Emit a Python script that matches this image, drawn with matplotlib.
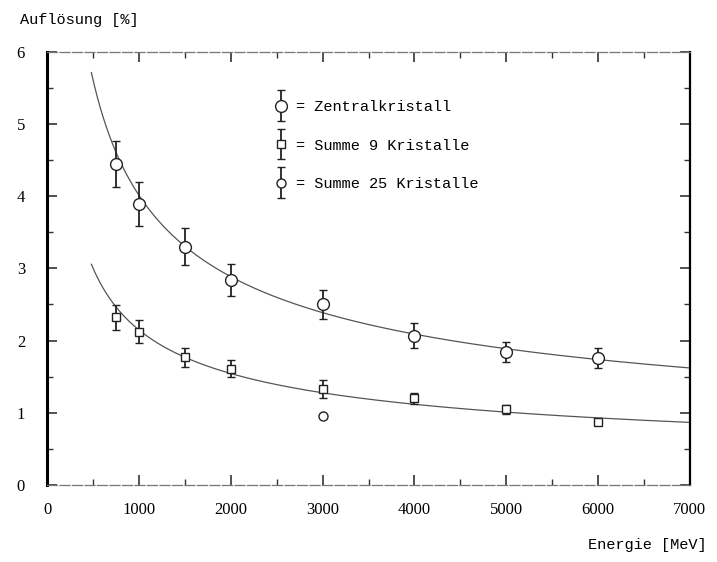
import numpy as np
import matplotlib
matplotlib.use('Agg')
import matplotlib.pyplot as plt
from matplotlib.ticker import MultipleLocator
from matplotlib.container import ErrorbarContainer
from matplotlib.legend_handler import HandlerErrorbar

# Energy points (MeV) and resolution (%)
e_zentral = [750, 1000, 1500, 2000, 3000, 4000, 5000, 6000]
r_zentral = [4.45, 3.89, 3.30, 2.84, 2.50, 2.07, 1.84, 1.76]
err_zentral = [0.32, 0.30, 0.26, 0.22, 0.20, 0.17, 0.14, 0.14]

e_summe9 = [750, 1000, 1500, 2000, 3000, 4000, 5000, 6000]
r_summe9 = [2.32, 2.12, 1.77, 1.61, 1.33, 1.20, 1.05, 0.87]
err_summe9 = [0.17, 0.16, 0.13, 0.12, 0.12, 0.08, 0.06, 0.0]

e_summe25 = [3000]
r_summe25 = [0.96]
err_summe25 = [0.0]

# fitted curves: a / sqrt(E) + b
fit_upper = (121.4, 0.17)
fit_lower = (65.0, 0.09)
fit_range = (480, 7000)

plt.rcParams['font.family'] = ['Liberation Serif', 'DejaVu Serif']

fig = plt.figure(figsize=(7.17, 5.62), dpi=100)
ax = fig.add_axes([0.066, 0.137, 0.896, 0.771])

x = np.linspace(fit_range[0], fit_range[1], 400)
for a, b in (fit_upper, fit_lower):
	ax.plot(x, a / np.sqrt(x) + b, color='#555555', lw=0.9)

eb_kw = dict(color='#222222', ecolor='#222222', elinewidth=1.3, capsize=3,
	capthick=1.3, linestyle='none', mfc='white', mew=1.0)
h1 = ax.errorbar(e_zentral, r_zentral, yerr=err_zentral, marker='o', ms=8.5, **eb_kw)
h2 = ax.errorbar(e_summe9, r_summe9, yerr=err_summe9, marker='s', ms=6, **eb_kw)
h3 = ax.errorbar(e_summe25, r_summe25, yerr=err_summe25, marker='o', ms=6.5, **eb_kw)

ax.set_xlim(0, 7000)
ax.set_ylim(0, 6)
ax.xaxis.set_major_locator(MultipleLocator(1000))
ax.xaxis.set_minor_locator(MultipleLocator(500))
ax.yaxis.set_major_locator(MultipleLocator(1))
ax.yaxis.set_minor_locator(MultipleLocator(0.5))
ax.tick_params(which='both', direction='in', top=True, right=True,
	labelsize=12, color='#333333')
ax.tick_params(which='major', length=7, width=1.2)
ax.tick_params(which='minor', length=4, width=1.0)
ax.tick_params(axis='x', pad=12)
ax.tick_params(axis='y', pad=16)

ax.spines['left'].set_linewidth(2.2)
ax.spines['right'].set_linewidth(1.6)
for s in ('top', 'bottom'):
	ax.spines[s].set_linewidth(0.9)
	ax.spines[s].set_color('#777777')
	ax.spines[s].set_linestyle((0, (8, 2)))

leg = ax.legend([h1, h2, h3],
	['= Zentralkristall', '= Summe 9 Kristalle', '= Summe 25 Kristalle'],
	loc='upper left', bbox_to_anchor=(0.33, 0.92), frameon=False,
	prop={'family': 'Liberation Mono', 'size': 11}, handlelength=1.0,
	handletextpad=0.5, labelspacing=1.6,
	handler_map={ErrorbarContainer: HandlerErrorbar(xerr_size=0.5, yerr_size=1.0)})

fig.text(0.028, 0.965, 'Auflösung [%]', family='Liberation Mono', fontsize=11,
	va='center', ha='left')
fig.text(0.985, 0.03, 'Energie [MeV]', family='Liberation Mono', fontsize=11,
	va='center', ha='right')

fig.savefig('out.png', dpi=100)
